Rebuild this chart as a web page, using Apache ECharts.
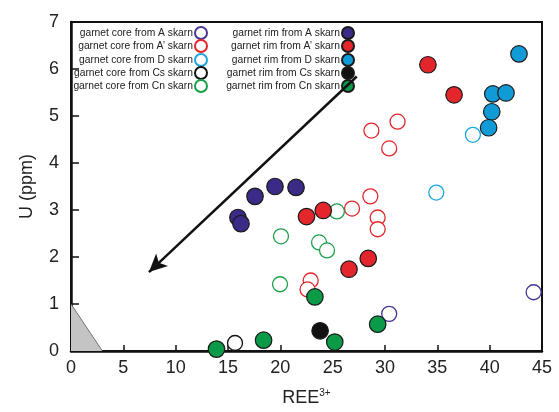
<!DOCTYPE html>
<html><head><meta charset="utf-8">
<script src="https://cdn.jsdelivr.net/npm/echarts@6/dist/echarts.min.js"></script>
<style>html,body{margin:0;padding:0;background:#fff}#c{width:559px;height:412px}</style>
</head><body><div id="c"></div>
<script>
// ---- data ----
const coreA  = [[30.4,0.79],[44.2,1.25]];
const coreA2 = [[28.7,4.69],[31.2,4.88],[30.4,4.31],[28.6,3.29],[26.85,3.03],[29.3,2.84],[29.3,2.59],[22.9,1.50],[22.6,1.31]];
const coreD  = [[38.4,4.60],[34.9,3.37]];
const coreCs = [[15.67,0.17]];
const coreCn = [[25.4,2.97],[20.06,2.44],[23.7,2.31],[24.46,2.14],[19.97,1.42]];
const rimA   = [[17.58,3.29],[19.49,3.50],[21.5,3.48],[15.95,2.84],[16.24,2.71]];
const rimA2  = [[22.5,2.86],[24.1,2.99],[26.56,1.74],[28.4,1.97],[34.1,6.09],[36.6,5.45]];
const rimD   = [[42.8,6.32],[40.3,5.47],[41.56,5.49],[40.2,5.09],[39.9,4.75]];
const rimCs  = [[23.8,0.43]];
const rimCn  = [[23.3,1.15],[25.2,0.19],[18.4,0.23],[13.9,0.04],[29.3,0.57]];
const triangle = [[0,1],[3,0]];
const arrowLine = [[27.3,5.84],[7.45,1.68]];
const xTicks = [0,5,10,15,20,25,30,35,40,45];
const yTicks = [0,1,2,3,4,5,6,7];

const names = {
  coreA:"garnet core from A skarn", coreA2:"garnet core from A’ skarn", coreD:"garnet core from D skarn",
  coreCs:"garnet core from Cs skarn", coreCn:"garnet core from Cn skarn",
  rimA:"garnet rim from A skarn", rimA2:"garnet rim from A’ skarn", rimD:"garnet rim from D skarn",
  rimCs:"garnet rim from Cs skarn", rimCn:"garnet rim from Cn skarn"
};
const colors = {A:'#3b2a86', A2:'#e3262b', D:'#109bd7', Cs:'#111111', Cn:'#0b9a47'};
const openColors = {A:'#4a3598', A2:'#e3262b', D:'#1aa6e0', Cs:'#111111', Cn:'#1aa04a'};

function openS(name, data, c){
  return {type:'scatter', name, data, symbol:'circle', symbolSize:15, z:3,
    itemStyle:{color:'#ffffff', borderColor:c, borderWidth:1.3, opacity:1}};
}
function fillS(name, data, c){
  return {type:'scatter', name, data, symbol:'circle', symbolSize:16.5, z:4,
    itemStyle:{color:c, borderColor:'#1a1a1a', borderWidth:1.2, opacity:1}};
}

const series = [
  {type:'line', data:triangle, symbol:'none', z:1, silent:true,
   lineStyle:{color:'#555', width:0.8}, areaStyle:{color:'#c4c4c4', opacity:1}},
  openS(names.coreA, coreA, openColors.A),
  openS(names.coreA2, coreA2, openColors.A2),
  openS(names.coreD, coreD, openColors.D),
  openS(names.coreCs, coreCs, openColors.Cs),
  openS(names.coreCn, coreCn, openColors.Cn),
  fillS(names.rimA, rimA, colors.A),
  fillS(names.rimA2, rimA2, colors.A2),
  fillS(names.rimD, rimD, colors.D),
  fillS(names.rimCs, rimCs, colors.Cs),
  fillS(names.rimCn, rimCn, colors.Cn),
  {type:'scatter', data:[], z:5, silent:true,
   markLine:{silent:true, symbol:['none','arrow'], symbolSize:[13,18], label:{show:false},
     lineStyle:{color:'#111', width:2.5, type:'solid'},
     data:[[{coord:arrowLine[0]},{coord:arrowLine[1]}]]}}
];

const col1 = [names.coreA,names.coreA2,names.coreD,names.coreCs,names.coreCn];
const col2 = [names.rimA,names.rimA2,names.rimD,names.rimCs,names.rimCn];
const rowTops = [26,39,53,66,79];
const legends = [];
col1.forEach((n,i)=>legends.push({data:[n], right:351, top:rowTops[i]}));
col2.forEach((n,i)=>legends.push({data:[n], right:204, top:rowTops[i]}));
legends.forEach(l=>Object.assign(l,{padding:0, itemWidth:12, itemHeight:12, itemGap:3, align:'right',
  selectedMode:false, textStyle:{fontSize:10.3, color:'#222', fontFamily:'Liberation Sans, Arial', padding:[0,-3,0,0]}}));

const chart = echarts.init(document.getElementById('c'), null, {renderer:'canvas'});
chart.setOption({
  animation:false,
  backgroundColor:'#ffffff',
  textStyle:{fontFamily:'Liberation Sans, Arial'},
  grid:{left:71, right:17, top:22, bottom:61, show:true, borderColor:'#111', borderWidth:2, backgroundColor:'transparent'},
  legend: legends,
  xAxis:{type:'value', min:xTicks[0], max:xTicks[xTicks.length-1], interval:5,
    name:'REE{sup|3+}', nameLocation:'middle', nameGap:37,
    nameTextStyle:{fontSize:18, color:'#222', rich:{sup:{fontSize:10, verticalAlign:'top', padding:[0,0,10,0], color:'#222'}}},
    axisLine:{lineStyle:{color:'#111', width:2.5}},
    axisTick:{inside:true, length:6, lineStyle:{color:'#111', width:1.5}},
    axisLabel:{fontSize:18, color:'#222', margin:8},
    splitLine:{show:false}},
  yAxis:{type:'value', min:yTicks[0], max:yTicks[yTicks.length-1], interval:1,
    name:'U (ppm)', nameLocation:'middle', nameGap:35, nameRotate:90,
    nameTextStyle:{fontSize:18, color:'#222'},
    axisLine:{lineStyle:{color:'#111', width:2.5}},
    axisTick:{inside:true, length:8, lineStyle:{color:'#111', width:1.5}},
    axisLabel:{fontSize:18, color:'#222', margin:12},
    splitLine:{show:false}},
  series
});
</script></body></html>
